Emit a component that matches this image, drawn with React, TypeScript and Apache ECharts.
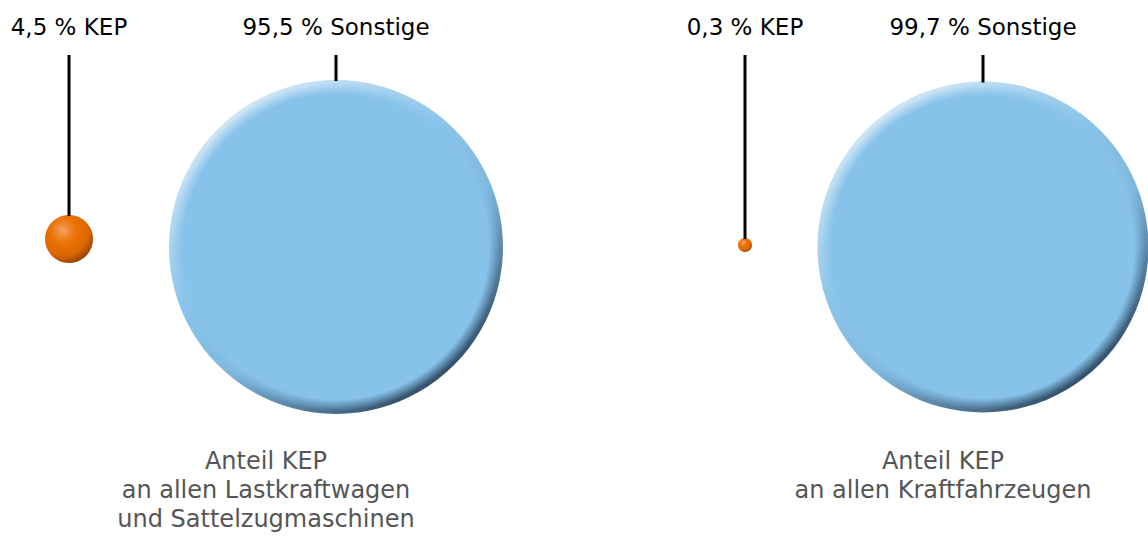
import React, { useEffect, useRef } from "react";
import * as echarts from "echarts";

// ---- data ----
const categories = ["KEP", "Sonstige"];
const shareLkw = [4.5, 95.5];
const shareKfz = [0.3, 99.7];
const captionLkw = ["Anteil KEP", "an allen Lastkraftwagen", "und Sattelzugmaschinen"];
const captionKfz = ["Anteil KEP", "an allen Kraftfahrzeugen"];

const FONT = "DejaVu Sans";
const fmt = (v: number) => v.toFixed(1).replace(".", ",");

export default function App() {
  const ref = useRef<HTMLDivElement>(null);

  useEffect(() => {
    document.body.style.margin = "0";
    if (!ref.current) return;
    const chart = echarts.init(ref.current, undefined, { renderer: "svg" });

    const groups = [
      { values: shareLkw, sizes: [48, 334], offsets: [-8, 0], caption: captionLkw, captionX: 266, left: 69, right: 812 },
      { values: shareKfz, sizes: [14, 331], offsets: [-2, 0], caption: captionKfz, captionX: 943, left: 745, right: 165 },
    ];

    const blueEdge = new echarts.graphic.LinearGradient(0.15, 0.05, 0.8, 0.95, [
      { offset: 0, color: "#d8ebf8" },
      { offset: 0.4, color: "#8ac4ea" },
      { offset: 0.62, color: "#7fb7dd" },
      { offset: 1, color: "#2c4660" },
    ]);
    const blueInner = new echarts.graphic.RadialGradient(0.5, 0.5, 0.5, [
      { offset: 0, color: "rgba(134,194,234,1)" },
      { offset: 0.93, color: "rgba(134,194,234,1)" },
      { offset: 1, color: "rgba(134,194,234,0)" },
    ]);
    const orangeFill = new echarts.graphic.RadialGradient(0.38, 0.32, 0.75, [
      { offset: 0, color: "#f4a060" },
      { offset: 0.35, color: "#ec7206" },
      { offset: 0.7, color: "#dc6600" },
      { offset: 1, color: "#843a00" },
    ]);

    const grid: any[] = [];
    const xAxis: any[] = [];
    const yAxis: any[] = [];
    const series: any[] = [];

    groups.forEach((g, gi) => {
      grid.push({ left: g.left, right: g.right, top: 147, bottom: 189, containLabel: false });
      xAxis.push({ type: "category", gridIndex: gi, data: categories, boundaryGap: false, show: false });
      yAxis.push({ type: "value", gridIndex: gi, min: -1, max: 1, show: false });
      // orange KEP ball
      series.push({
        type: "scatter",
        xAxisIndex: gi,
        yAxisIndex: gi,
        silent: true,
        data: [{ value: [categories[0], 0, g.values[0]], symbolSize: g.sizes[0], symbolOffset: [0, g.offsets[0]] }],
        itemStyle: { color: orangeFill, opacity: 1 },
      });
      // blue base (edge shading)
      series.push({
        type: "scatter",
        xAxisIndex: gi,
        yAxisIndex: gi,
        silent: true,
        data: [{ value: [categories[1], 0, g.values[1]], symbolSize: g.sizes[1] }],
        itemStyle: { color: blueEdge, opacity: 1 },
      });
      // blue flat inner with soft edge
      series.push({
        type: "scatter",
        xAxisIndex: gi,
        yAxisIndex: gi,
        silent: true,
        data: [{ value: [categories[1], 0, g.values[1]], symbolSize: g.sizes[1] - 6 }],
        itemStyle: { color: blueInner, opacity: 1 },
      });
    });

    chart.setOption({ animation: false, grid, xAxis, yAxis, series });

    const graphic: any[] = [];
    groups.forEach((g, gi) => {
      categories.forEach((cat, ci) => {
        const p = chart.convertToPixel({ gridIndex: gi } as any, [ci, 0]) as number[];
        const cy = p[1] + g.offsets[ci];
        const top = cy - g.sizes[ci] / 2;
        graphic.push({
          type: "line",
          silent: true,
          shape: { x1: p[0], y1: 55, x2: p[0], y2: top + 1 },
          style: { stroke: "#000", lineWidth: 3 },
          z: 10,
        });
        graphic.push({
          type: "text",
          silent: true,
          x: p[0],
          y: 27,
          style: {
            text: `${fmt(g.values[ci])} % ${cat}`,
            font: `23px "${FONT}"`,
            fill: "#000",
            align: "center",
            verticalAlign: "middle",
          },
        });
      });
      graphic.push({
        type: "text",
        silent: true,
        x: g.captionX,
        y: 446,
        style: {
          text: g.caption.join("\n"),
          font: `24px "${FONT}"`,
          fill: "#555555",
          align: "center",
          verticalAlign: "top",
          lineHeight: 29,
        },
      });
    });
    chart.setOption({ graphic });

    return () => chart.dispose();
  }, []);

  return <div ref={ref} style={{ width: 1148, height: 536 }} />;
}
